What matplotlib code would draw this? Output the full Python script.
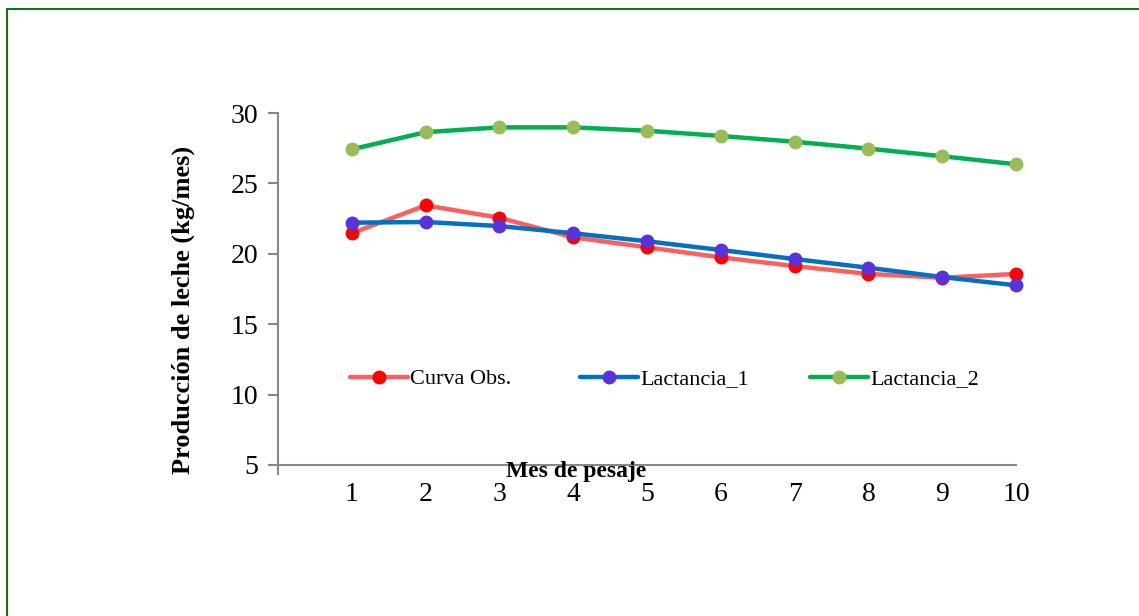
import matplotlib
matplotlib.use("Agg")
import matplotlib.pyplot as plt
from matplotlib.patches import Rectangle

meses = [1, 2, 3, 4, 5, 6, 7, 8, 9, 10]
curva_obs = [21.46, 23.44, 22.56, 21.17, 20.46, 19.75, 19.13, 18.57, 18.30, 18.57]
lactancia_1 = [22.21, 22.26, 21.97, 21.46, 20.89, 20.27, 19.63, 19.01, 18.35, 17.76]
lactancia_2 = [27.42, 28.64, 28.98, 28.98, 28.74, 28.37, 27.96, 27.47, 26.93, 26.36]
series_names = ["Curva Obs.", "Lactancia_1", "Lactancia_2"]
y_ticks = [5, 10, 15, 20, 25, 30]

W, H = 1139, 616
fig = plt.figure(figsize=(W / 100, H / 100), dpi=100)
fig.patch.set_facecolor("white")

# border
fig.patches.append(Rectangle((7 / W, -0.1), 1.2, 1 - 9 / H + 0.1, transform=fig.transFigure,
                             fill=False, edgecolor="#1E6E1E", linewidth=1.5))

ax = fig.add_axes([278 / W, 1 - 465 / H, (1016 - 278) / W, (465 - 113) / H])

styles = [
    dict(color="#FF5F5F", mfc="#FF0000", mec="#FF0000"),
    dict(color="#0070C0", mfc="#5A32DC", mec="#5A32DC"),
    dict(color="#00B050", mfc="#9BBB59", mec="#9BBB59"),
]
handles = []
for data, name, st in zip([curva_obs, lactancia_1, lactancia_2], series_names, styles):
    h, = ax.plot(meses, data, color=st["color"], linewidth=3.2, marker="o", markersize=9,
                 markerfacecolor=st["mfc"], markeredgecolor=st["mec"], label=name,
                 solid_capstyle="round", clip_on=False)
    handles.append(h)

ax.set_xlim(0, 10)
ax.set_ylim(5, 30)
ax.set_yticks(y_ticks)
ax.set_xticks(meses)
ax.set_xticks([0], minor=True)
for s in ["top", "right"]:
    ax.spines[s].set_visible(False)
for s in ["left", "bottom"]:
    ax.spines[s].set_color("#888888")
    ax.spines[s].set_linewidth(1.5)
ax.tick_params(axis="y", which="major", length=7, width=1.5, color="#888888", direction="out",
               labelsize=20, pad=7)
ax.tick_params(axis="x", which="major", length=0, labelsize=20, pad=12)
ax.tick_params(axis="x", which="minor", length=7, width=1.5, color="#888888", direction="out")
for lab in ax.get_xticklabels() + ax.get_yticklabels():
    lab.set_family("Liberation Serif")

fig.text(183 / W, 1 - 310 / H, "Producción de leche (kg/mes)", family="Liberation Serif",
         fontweight="bold", fontsize=19, rotation=90, ha="center", va="center")
fig.text(576 / W, 1 - 472 / H, "Mes de pesaje", family="Liberation Serif", fontweight="bold",
         fontsize=17, ha="center", va="center")

legend_x = [350, 580, 810]
for h, lx in zip(handles, legend_x):
    fig.legend(handles=[h], loc="center left", bbox_to_anchor=(lx / W, 1 - 379 / H),
               frameon=False, borderpad=0, borderaxespad=0, handlelength=2.6,
               handletextpad=0.12, prop={"family": "Liberation Serif", "size": 16})

fig.savefig("out.png", dpi=100)
